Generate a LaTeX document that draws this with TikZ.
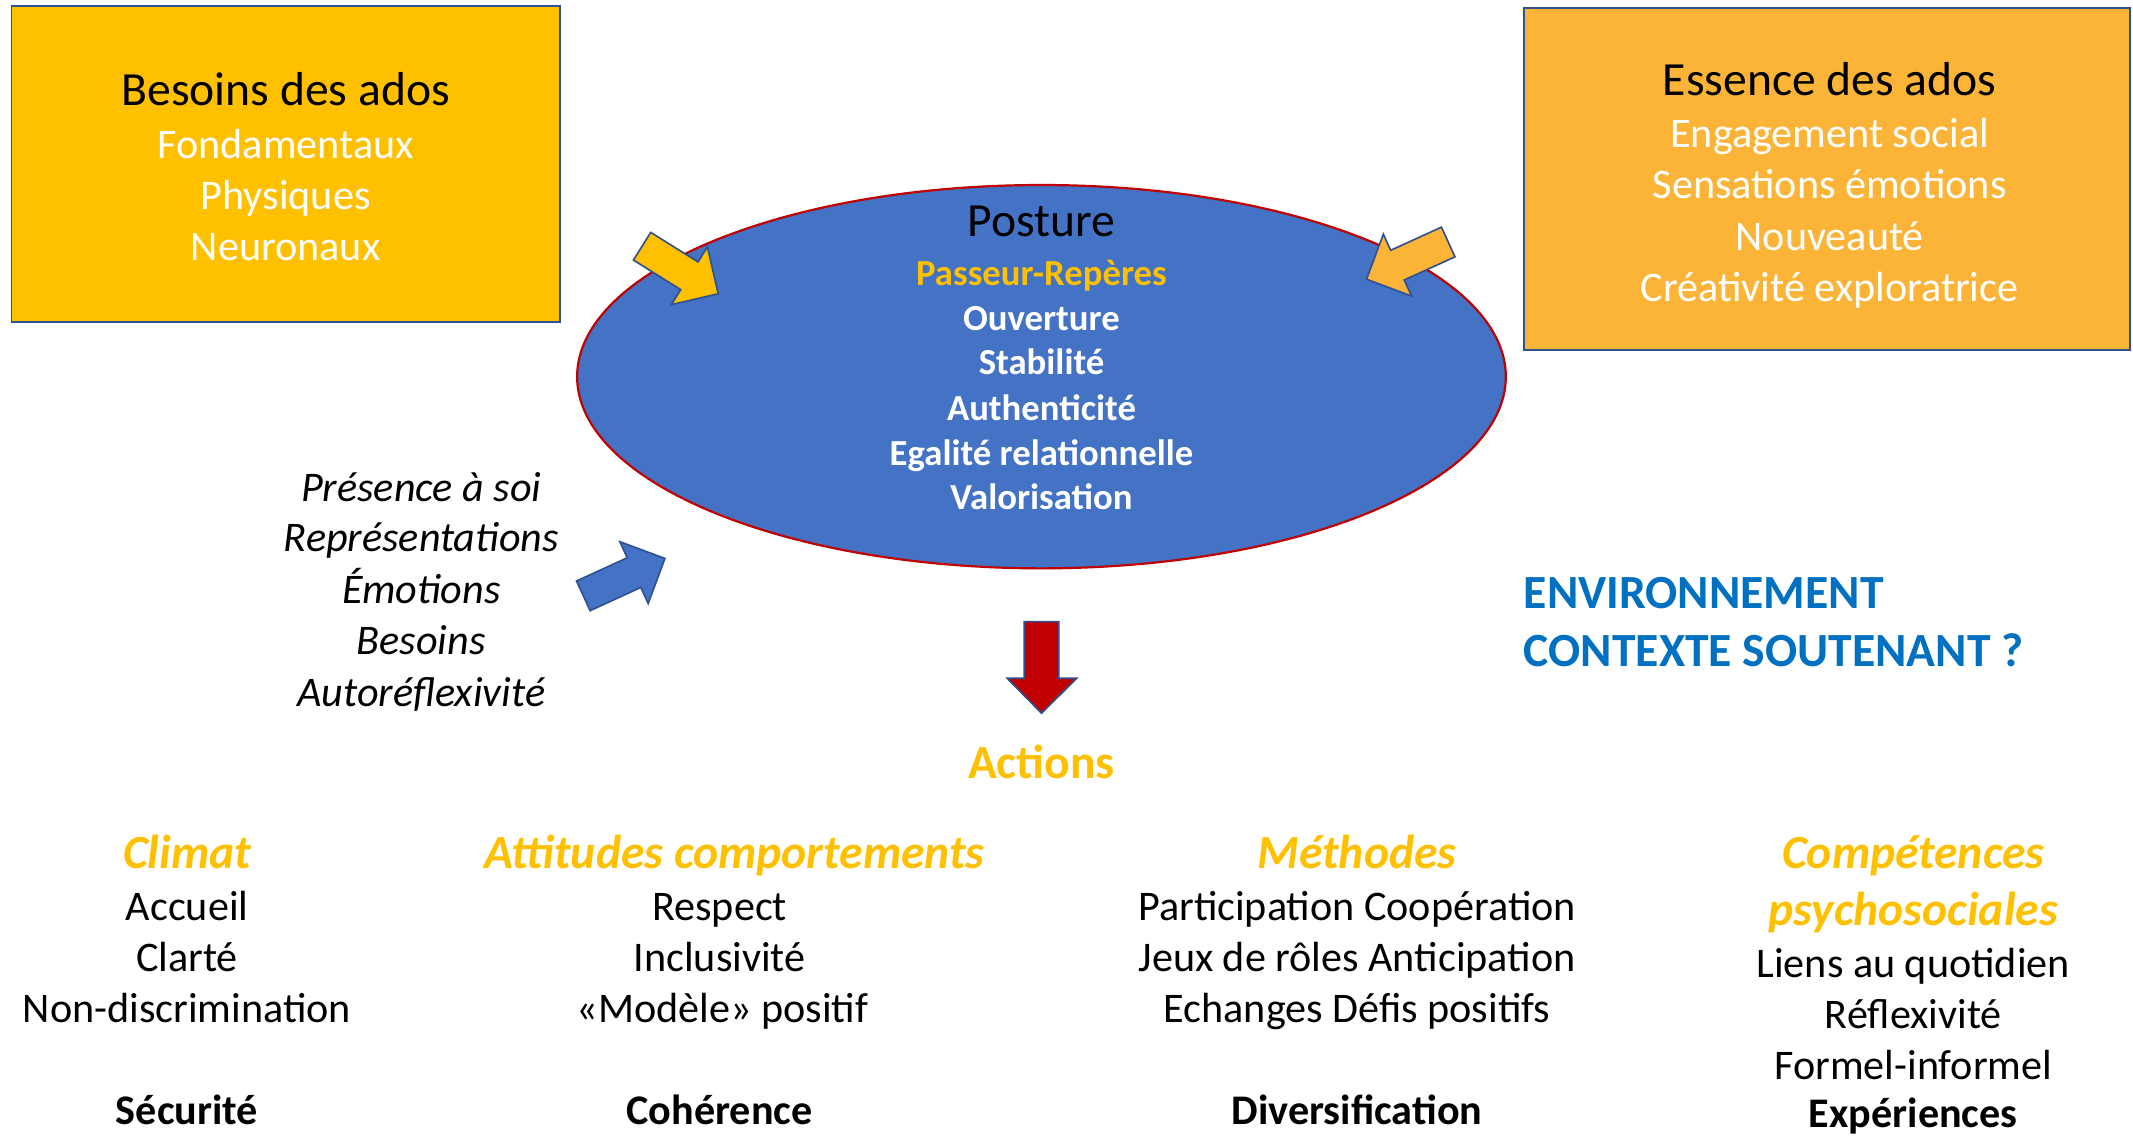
\documentclass[tikz,border=0pt]{standalone}
\usepackage{fontspec}
\setmainfont{Carlito}
\usetikzlibrary{shapes.geometric}

\definecolor{gold}{HTML}{FFC000}
\definecolor{amber}{HTML}{FBB437}
\definecolor{ovalblue}{HTML}{4472C4}
\definecolor{rimred}{HTML}{C00000}
\definecolor{edgeblue}{HTML}{2F528F}
\definecolor{envblue}{HTML}{0070C0}

\tikzset{
  panel/.style={draw=edgeblue, line width=1.3pt},
  txt/.style={inner sep=0pt, anchor=base, yshift=-1.5pt},
  big/.style={font=\fontsize{35}{42}\selectfont},
  mid/.style={font=\fontsize{31}{37}\selectfont},
  midit/.style={font=\fontsize{31}{37}\selectfont\itshape},
  midbf/.style={font=\fontsize{31}{37}\selectfont\bfseries},
  bigbf/.style={font=\fontsize{35}{42}\selectfont\bfseries},
  head/.style={font=\fontsize{35}{42}\selectfont\bfseries\itshape, text=gold},
  ovalitem/.style={font=\fontsize{27}{33}\selectfont\bfseries, text=white},
  blockarrow/.style={draw=edgeblue, line width=1.2pt, line join=miter},
  pics/fatarrow/.style={code={
    \draw[blockarrow, fill=#1] (0,12) -- (41,12) -- (41,25) -- (66,0)
      -- (41,-25) -- (41,-12) -- (0,-12) -- cycle;}},
}

\begin{document}
\begin{tikzpicture}[x=1pt, y=-1pt]
\useasboundingbox (0,0) rectangle (1568,835);
\fill[white] (0,0) rectangle (1568,835);

% needs panel
\node[panel, fill=gold, minimum width=403pt, minimum height=232.5pt] (needs) at (209.9,120.7) {};
\node[txt, big] (needsT) at (210,76) {Besoins des ados};
\node[txt, mid, text=white] (need1) at (210,115) {Fondamentaux};
\node[txt, mid, text=white] (need2) at (210,152.6) {Physiques};
\node[txt, mid, text=white] (need3) at (210,190.2) {Neuronaux};

% essence panel
\node[panel, fill=amber, minimum width=445.7pt, minimum height=251.2pt] (essence) at (1343.2,131.7) {};
\node[txt, big] (essT) at (1345,68.6) {Essence des ados};
\node[txt, mid, text=white] (ess1) at (1345,107.1) {Engagement social};
\node[txt, mid, text=white] (ess2) at (1345,144.6) {Sensations émotions};
\node[txt, mid, text=white] (ess3) at (1345,182.5) {Nouveauté};
\node[txt, mid, text=white] (ess4) at (1345,219.8) {Créativité exploratrice};

% posture oval
\node[ellipse, draw=rimred, line width=1.6pt, fill=ovalblue,
      minimum width=682.7pt, minimum height=281.8pt, inner sep=0pt] (posture) at (765.6,276.9) {};
\node[txt, big] (postT) at (765.6,172.7) {Posture};
\node[txt, ovalitem, text=gold] (post1) at (765.6,208.3) {Passeur-Repères};
\node[txt, ovalitem] (post2) at (765.6,241.3) {Ouverture};
\node[txt, ovalitem] (post3) at (765.6,274) {Stabilité};
\node[txt, ovalitem] (post4) at (765.6,307.5) {Authenticité};
\node[txt, ovalitem] (post5) at (765.6,340.6) {Egalité relationnelle};
\node[txt, ovalitem] (post6) at (765.6,372.9) {Valorisation};

% block arrows pointing into the oval
\pic[rotate=-32] (fromNeeds) at (472,181) {fatarrow=gold};
\pic[rotate=204.5] (fromEssence) at (1064.6,177.9) {fatarrow=amber};
\pic[rotate=24.6] (fromSelf) at (428.8,438) {fatarrow=ovalblue};

% self-awareness list
\node[txt, midit] (self1) at (309.7,367.5) {Présence à soi};
\node[txt, midit] (self2) at (309.7,403.8) {Représentations};
\node[txt, midit] (self3) at (309.7,442.3) {Émotions};
\node[txt, midit] (self4) at (309.7,479.5) {Besoins};
\node[txt, midit] (self5) at (309.7,517.5) {Autoréflexivité};

% arrow down to actions
\draw[blockarrow, fill=rimred] (752.8,457) -- (778.3,457) -- (778.3,498.6) -- (791.5,498.6)
  -- (765.6,524.3) -- (740.4,498.6) -- (752.8,498.6) -- cycle;
\node[txt, bigbf, text=gold] (actions) at (765.6,570.9) {Actions};

% environment
\node[txt, bigbf, text=envblue, anchor=base west] (env1) at (1120,445.5) {ENVIRONNEMENT};
\node[txt, bigbf, text=envblue, anchor=base west] (env2) at (1120,488.1) {CONTEXTE SOUTENANT ?};

% column: climat
\node[txt, head] (climat) at (137.5,636.6) {Climat};
\node[txt, mid] (cl1) at (137.5,675.5) {Accueil};
\node[txt, mid] (cl2) at (137.5,713) {Clarté};
\node[txt, mid] (cl3) at (137.5,750.3) {Non-discrimination};
\node[txt, midbf] (cl4) at (137.5,825.2) {Sécurité};

% column: attitudes
\node[txt, head] (attitudes) at (540,636.6) {Attitudes comportements};
\node[txt, mid] (at1) at (529,675.5) {Respect};
\node[txt, mid] (at2) at (529,713) {Inclusivité};
\node[txt, mid] (at3) at (531,750.3) {«Modèle» positif};
\node[txt, midbf] (at4) at (529,825.2) {Cohérence};

% column: methodes
\node[txt, head] (methodes) at (997.6,636.6) {Méthodes};
\node[txt, mid] (me1) at (997.6,675.5) {Participation Coopération};
\node[txt, mid] (me2) at (997.6,713) {Jeux de rôles Anticipation};
\node[txt, mid] (me3) at (997.6,750.3) {Echanges Défis positifs};
\node[txt, midbf] (me4) at (997.6,825.2) {Diversification};

% column: competences
\node[txt, head] (comp1) at (1406.5,636.6) {Compétences};
\node[txt, head] (comp2) at (1406.5,678.7) {psychosociales};
\node[txt, mid] (co1) at (1406.5,717.2) {Liens au quotidien};
\node[txt, mid] (co2) at (1406.5,754.7) {Réflexivité};
\node[txt, mid] (co3) at (1406.5,792.2) {Formel-informel};
\node[txt, midbf] (co4) at (1406.5,827) {Expériences};
\end{tikzpicture}
\end{document}
